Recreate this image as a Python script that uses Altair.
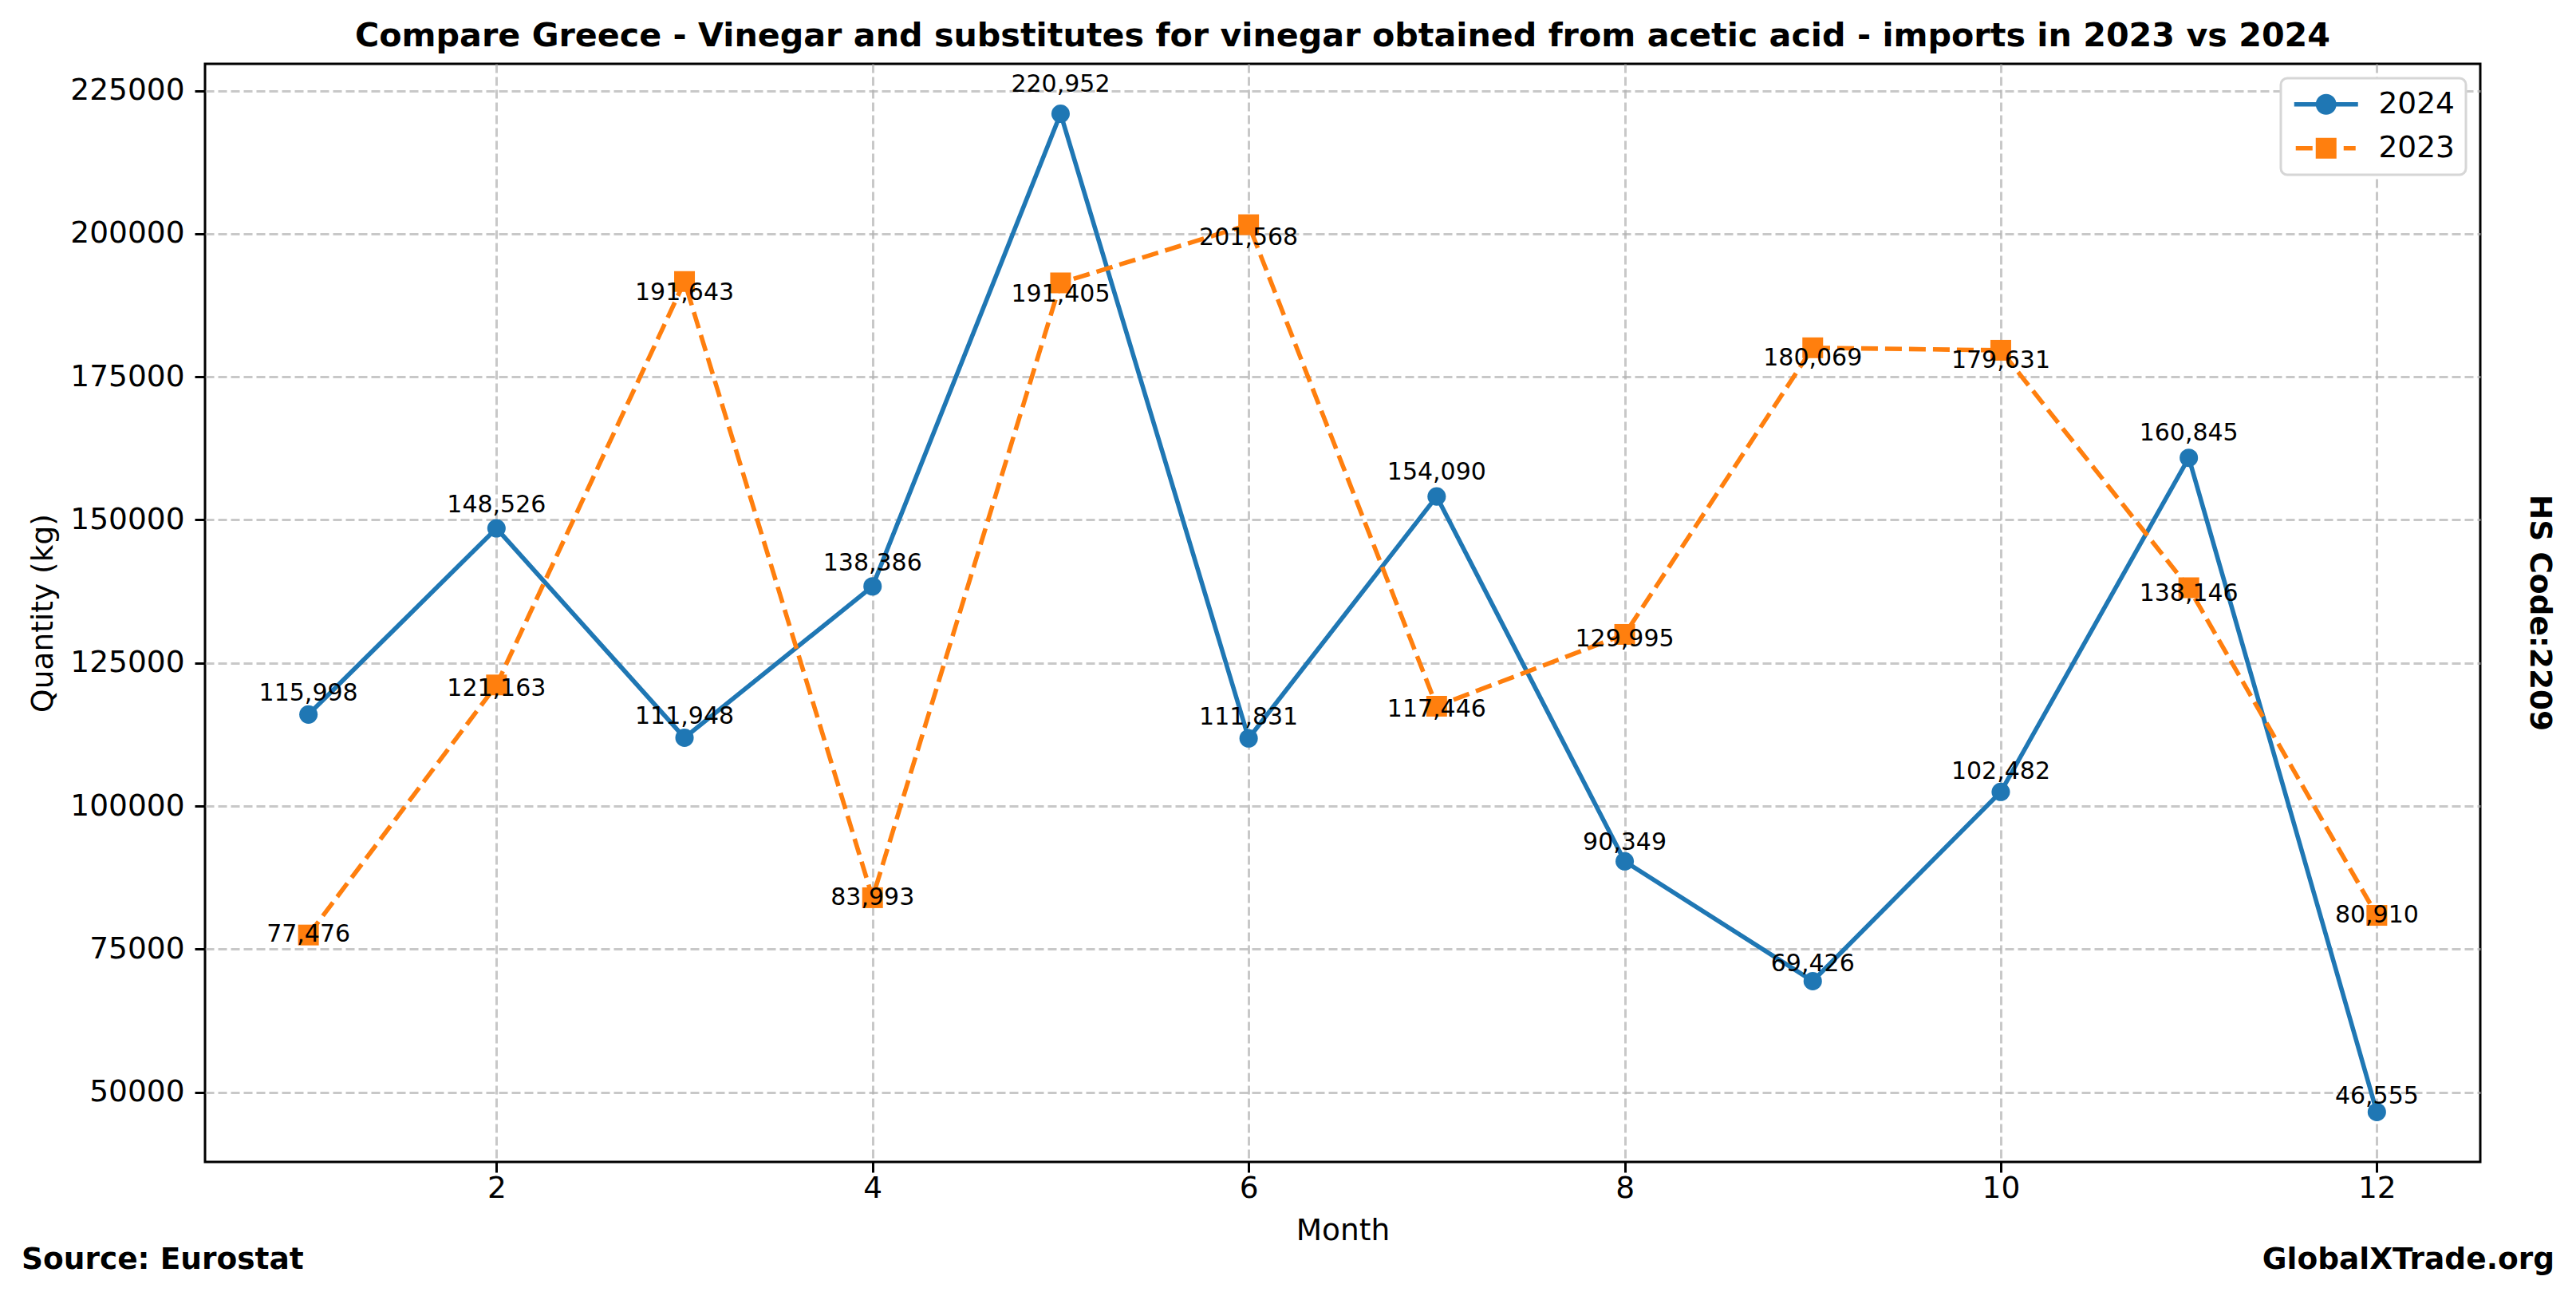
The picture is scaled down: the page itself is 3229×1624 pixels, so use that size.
import altair as alt
import pandas as pd

months = list(range(1, 13))
qty_2024 = [115998, 148526, 111948, 138386, 220952, 111831, 154090, 90349, 69426, 102482, 160845, 46555]
qty_2023 = [77476, 121163, 191643, 83993, 191405, 201568, 117446, 129995, 180069, 179631, 138146, 80910]
years = ["2024", "2023"]
colors = ["#1f77b4", "#ff7f0e"]
x_ticks = [2, 4, 6, 8, 10, 12]
y_ticks = [50000, 75000, 100000, 125000, 150000, 175000, 200000, 225000]

title_text = "Compare Greece - Vinegar and substitutes for vinegar obtained from acetic acid - imports in 2023 vs 2024"
source_text = "Source: Eurostat"
site_text = "GlobalXTrade.org"
hs_text = "HS Code:2209"

df24 = pd.DataFrame({"month": months, "qty": qty_2024, "year": "2024"})
df23 = pd.DataFrame({"month": months, "qty": qty_2023, "year": "2023"})
df_leg = pd.DataFrame({"month": [1, 1], "qty": [qty_2024[0], qty_2023[0]], "year": years})
df_note = pd.DataFrame({"a": [0]})

W, H = 2852, 1376
FONT = "DejaVu Sans"

x_scale = alt.Scale(domain=[0.45, 12.55], nice=False, zero=False)
y_scale = alt.Scale(domain=[37835, 229672], nice=False, zero=False)
x_axis = alt.Axis(title="Month", values=x_ticks, format="d")
y_axis = alt.Axis(title="Quantity (kg)", values=y_ticks, format="d")

X = alt.X("month:Q", scale=x_scale, axis=x_axis)
Y = alt.Y("qty:Q", scale=y_scale, axis=y_axis)

line24 = alt.Chart(df24).mark_line(color=colors[0], strokeWidth=5.6).encode(x=X, y=Y)
line23 = alt.Chart(df23).mark_line(color=colors[1], strokeWidth=5.6, strokeDash=[21, 9]).encode(x=X, y=Y)
pts24 = alt.Chart(df24).mark_point(shape="circle", filled=True, size=531, color=colors[0], opacity=1).encode(x=X, y=Y)
pts23 = alt.Chart(df23).mark_point(shape="square", filled=True, size=676, color=colors[1], opacity=1).encode(x=X, y=Y)

lab24 = alt.Chart(df24).transform_calculate(ly="datum.qty*1.0136").mark_text(
    font=FONT, fontSize=30, color="black", baseline="alphabetic", align="center", dy=-6
).encode(
    x=X,
    y=alt.Y("ly:Q", scale=y_scale, axis=y_axis),
    text=alt.Text("qty:Q", format=","),
)
lab23 = alt.Chart(df23).transform_calculate(ly="datum.qty*0.981").mark_text(
    font=FONT, fontSize=30, color="black", baseline="alphabetic", align="center", dy=-2.5
).encode(
    x=X,
    y=alt.Y("ly:Q", scale=y_scale, axis=y_axis),
    text=alt.Text("qty:Q", format=","),
)

# legend glyphs: unit = 16 px (symbol size 32*32)
path24 = ("M-2.5,-0.175H2.5V0.175H-2.5Z "
          "M0.8125,0C0.8125,0.4487 0.4487,0.8125 0,0.8125C-0.4487,0.8125 -0.8125,0.4487 -0.8125,0"
          "C-0.8125,-0.4487 -0.4487,-0.8125 0,-0.8125C0.4487,-0.8125 0.8125,-0.4487 0.8125,0Z")
path23 = ("M-2.375,-0.175H-1.0625V0.175H-2.375Z M1.375,-0.175H2.3125V0.175H1.375Z "
          "M-0.8125,-0.8125H0.8125V0.8125H-0.8125Z")

legend_layer = alt.Chart(df_leg).transform_filter("false").mark_point(filled=True, size=1024, opacity=1).encode(
    color=alt.Color("year:N", scale=alt.Scale(domain=years, range=colors), legend=alt.Legend(title=None)),
    shape=alt.Shape("year:N", scale=alt.Scale(domain=years, range=[path24, path23]), legend=alt.Legend(title=None)),
)

source = alt.Chart(df_note).mark_text(
    text=source_text, font=FONT, fontSize=37.5, fontWeight="bold", color="black", align="left", baseline="middle"
).encode(x=alt.value(-230), y=alt.value(1499))
site = alt.Chart(df_note).mark_text(
    text=site_text, font=FONT, fontSize=37.5, fontWeight="bold", color="black", align="right", baseline="middle"
).encode(x=alt.value(2945), y=alt.value(1499))
hs = alt.Chart(df_note).mark_text(
    text=hs_text, font=FONT, fontSize=37.5, fontWeight="bold", color="black", align="center", baseline="middle", angle=90
).encode(x=alt.value(2926), y=alt.value(688))

chart = alt.layer(line24, line23, pts24, pts23, lab24, lab23, legend_layer, source, site, hs).properties(
    width=W,
    height=H,
    autosize=alt.AutoSizeParams(type="none"),
    padding={"left": 249, "top": 72, "right": 104, "bottom": 150},
    title=alt.TitleParams(
        text=title_text, font=FONT, fontSize=41.25, fontWeight="bold", color="black",
        anchor="middle", frame="group", offset=16, baseline="bottom", dy=44
    ),
).configure_view(
    stroke="black", strokeWidth=3
).configure_axis(
    domain=False,
    labelFont=FONT, labelFontSize=37.5, labelColor="black",
    tickColor="black", tickWidth=3, tickSize=13, labelPadding=13,
    titleFont=FONT, titleFontSize=37.5, titleFontWeight="normal", titleColor="black",
    grid=True, gridColor="#b0b0b0", gridOpacity=0.7, gridWidth=3, gridDash=[11, 5],
).configure_axisY(
    titlePadding=14
).configure_axisX(
    labelPadding=1, titlePadding=16
).configure_legend(
    orient="top-right", offset=18, padding=14,
    strokeColor="#d6d6d6", strokeWidth=3, cornerRadius=8, fillColor="white",
    labelFont=FONT, labelFontSize=37.5, labelColor="black",
    symbolSize=1024, symbolStrokeWidth=0, symbolOpacity=1, symbolOffset=24,
    labelOffset=47, rowPadding=16,
)

chart.save("out.html", embed_options={"renderer": "svg", "actions": False})
